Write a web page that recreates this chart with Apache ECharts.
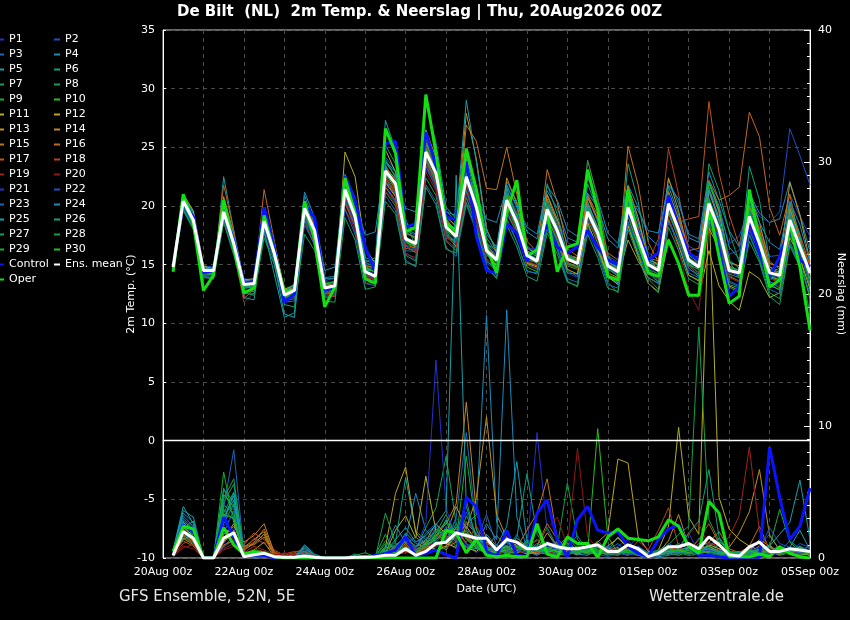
<!DOCTYPE html>
<html><head><meta charset="utf-8">
<script src="https://cdn.jsdelivr.net/npm/echarts@6/dist/echarts.min.js"></script>
<style>html,body{margin:0;padding:0;background:#000;overflow:hidden;}#c{width:850px;height:620px;}</style>
</head><body><div id="c"></div>
<script>
// ---- tick labels ----
const xLabels = ['20Aug 00z','22Aug 00z','24Aug 00z','26Aug 00z','28Aug 00z','30Aug 00z','01Sep 00z','03Sep 00z','05Sep 00z'];
// 64 steps of 6h, from 20Aug 06z to 05Sep 00z
// ---- 2m temperature (°C) ----
const meanT = [14.8,20.4,18.8,14.5, 14.5,19.5,16.8,13.3, 13.4,18.7,16.0,12.4, 12.8,19.8,17.9,13.0, 13.2,21.4,19.1,14.4, 14.0,23.0,21.9,17.2, 16.8,24.6,22.8,18.2, 17.4,22.5,19.9,16.2, 15.4,20.5,18.6,15.8, 15.3,19.7,17.9,15.5, 15.1,19.5,17.7,14.9, 14.4,19.9,17.4,15.0, 14.5,20.2,18.0,15.4, 14.8,20.2,18.0,14.5, 14.3,19.1,16.8,14.3, 14.1,18.8,16.5,14.3];
const controlT = [14.8,20.2,19.1,14.3, 14.5,19.8,17.0,13.4, 13.6,19.9,16.5,11.8, 12.5,20.1,19.0,12.8, 13.2,22.5,20.5,16.5, 14.4,25.3,25.5,18.2, 18.5,26.3,23.4,19.1, 18.8,23.8,17.4,14.5, 14.3,18.5,17.7,15.3, 16.5,18.4,16.5,16.0, 16.5,17.9,16.5,15.4, 15.0,19.5,17.7,15.4, 16.0,20.9,18.2,16.0, 15.4,19.9,16.3,12.3, 13.1,18.8,16.0,13.9, 15.7,18.2,15.4,14.8];
const operT = [14.4,21.0,18.5,12.8, 14.1,20.5,16.5,12.6, 13.0,19.2,16.0,12.8, 12.8,20.4,17.1,11.4, 13.1,22.4,19.4,13.8, 13.4,26.6,24.5,17.8, 18.2,29.5,24.5,18.5, 17.9,24.9,21.4,16.5, 14.3,19.4,22.2,15.7, 16.3,19.4,14.4,16.5, 16.8,23.1,19.7,14.0, 13.7,21.4,17.1,14.3, 14.0,17.1,15.1,12.4, 12.4,20.0,15.7,11.7, 12.3,21.4,17.1,13.1, 13.7,18.5,14.8,9.4];
const t01 = [14.6,20.1,18.9,14.7, 14.3,19.2,16.4,13.0, 13.1,18.4,16.3,12.0, 12.5,19.4,18.3,13.6, 13.9,20.6,17.8,15.1, 14.6,21.8,20.5,16.0, 15.4,23.1,21.9,17.7, 16.9,20.8,18.2,15.1, 14.6,19.2,17.9,15.9, 16.1,18.4,16.5,14.3, 13.9,18.7,17.2,15.6, 15.1,20.6,18.3,14.8, 13.5,19.4,17.1,14.6, 14.2,21.0,19.3,15.3, 13.8,18.2,15.9,13.5, 13.2,17.6,16.2,15.0];
const t02 = [14.9,20.6,19.2,14.9, 14.8,19.8,17.3,13.8, 13.7,19.0,16.4,12.8, 13.0,20.3,18.6,13.4, 13.0,21.8,19.9,15.0, 14.5,24.2,23.0,17.9, 17.5,25.3,23.5,19.0, 18.2,23.0,20.4,16.9, 15.8,21.3,19.5,16.6, 16.0,20.4,18.8,16.9, 16.4,20.8,18.6,15.8, 15.2,21.5,18.8,16.0, 15.5,21.1,19.0,16.6, 16.1,21.4,19.6,16.8, 17.4,19.9,18.2,15.7, 15.8,21.0,19.1,17.4];
const t03 = [14.7,20.0,18.4,14.2, 14.2,19.0,16.2,13.0, 13.3,18.0,15.6,12.2, 12.3,18.9,17.1,12.6, 12.9,20.4,18.6,14.0, 13.5,21.6,20.3,16.2, 16.1,23.4,21.5,17.3, 16.8,21.3,18.7,15.2, 14.9,19.4,17.8,15.0, 14.6,18.6,16.9,14.5, 14.0,18.1,16.2,13.9, 13.4,18.7,16.6,14.2, 13.8,19.3,17.4,14.9, 14.1,19.2,17.3,13.6, 13.2,17.9,16.0,13.4, 12.8,17.5,15.8,13.9];
const t04 = [15.0,20.9,19.4,14.6, 14.6,20.2,17.6,13.5, 13.6,19.5,16.9,12.7, 13.1,20.9,18.4,13.9, 14.0,22.3,20.3,15.4, 15.0,23.7,22.6,18.4, 17.9,25.8,23.7,19.6, 18.6,24.0,21.6,17.6, 16.5,22.1,20.4,17.8, 17.2,21.3,19.8,17.3, 16.9,22.4,20.6,17.7, 16.8,21.8,19.9,17.4, 16.6,22.3,20.2,17.6, 17.2,22.9,20.5,17.9, 16.5,21.1,19.4,18.6, 18.9,22.1,19.3,16.1];
const t05 = [14.5,20.7,19.5,14.0, 13.8,22.5,17.9,13.6, 13.2,19.3,15.1,10.8, 10.5,19.0,17.4,12.9, 13.4,22.7,20.7,15.6, 15.3,27.3,24.8,18.9, 16.4,24.9,23.1,18.6, 17.9,23.9,20.8,16.8, 16.2,21.8,19.9,16.4, 15.9,20.6,18.1,15.1, 14.7,21.9,19.6,15.3, 14.6,21.2,18.6,15.7, 14.9,21.7,19.3,15.2, 15.0,21.9,19.7,15.4, 14.7,20.3,17.5,13.9, 13.6,19.6,17.0,14.6];
const t06 = [14.9,20.3,18.6,14.4, 14.4,19.7,17.1,13.4, 13.5,18.9,16.2,12.6, 12.9,19.9,17.6,13.3, 13.6,21.9,19.3,14.9, 14.3,23.5,21.7,17.0, 16.2,23.9,22.4,18.5, 17.1,22.8,20.6,17.3, 16.0,21.1,18.5,15.2, 14.9,20.1,18.4,15.8, 15.6,20.4,18.1,14.7, 14.0,20.8,17.8,15.4, 15.0,21.3,18.9,15.9, 15.3,21.6,18.7,14.2, 13.9,19.8,17.6,14.8, 14.5,19.9,17.3,13.8];
const t07 = [14.6,20.5,19.0,14.8, 14.7,19.3,16.6,13.1, 13.2,18.5,15.8,12.2, 12.4,19.5,17.5,12.7, 12.8,20.9,18.9,14.6, 14.8,22.6,21.2,16.6, 16.0,24.2,22.1,17.9, 16.5,21.4,18.9,15.4, 14.4,19.6,17.6,15.1, 15.0,19.1,17.0,14.3, 14.2,18.9,16.9,14.1, 13.8,19.2,16.5,14.3, 13.5,19.6,17.2,14.7, 14.0,23.6,21.3,17.8, 15.2,18.6,16.4,13.6, 13.0,18.0,16.2,13.1];
const t08 = [14.4,19.6,18.0,14.1, 14.0,18.9,16.0,12.8, 12.7,18.3,15.5,11.9, 12.1,18.8,16.6,12.5, 12.6,20.5,18.3,13.8, 13.4,21.2,20.0,15.8, 15.3,22.4,20.9,17.0, 16.2,20.7,18.3,14.7, 13.9,18.9,17.0,14.5, 14.2,18.0,16.3,13.6, 13.1,18.4,16.3,13.5, 12.6,18.5,16.0,13.8, 12.9,18.9,16.8,14.1, 13.7,19.0,17.0,13.3, 13.0,17.5,15.4,12.6, 12.1,16.8,14.9,12.4];
const t09 = [14.7,20.8,19.1,14.6, 14.3,20.0,17.2,13.4, 13.6,19.2,16.5,12.9, 13.3,20.3,18.1,13.5, 13.5,21.6,19.6,15.2, 15.6,25.2,23.6,18.6, 17.8,25.7,23.3,18.8, 17.9,23.3,20.7,16.4, 15.1,20.9,18.8,15.6, 15.4,20.2,18.1,15.7, 15.2,19.8,18.2,15.4, 15.0,20.5,17.9,15.1, 14.4,20.6,18.5,15.8, 15.2,20.7,18.3,14.7, 14.6,19.4,17.1,14.5, 14.4,19.2,16.9,14.0];
const t10 = [14.8,20.2,18.5,14.3, 14.1,19.1,16.5,13.2, 13.0,18.6,15.9,12.3, 12.6,19.6,17.2,12.8, 13.1,21.0,18.7,14.3, 13.9,22.4,21.0,16.9, 16.5,24.0,22.0,17.6, 16.9,21.8,19.5,15.9, 15.0,20.1,17.9,14.8, 14.4,18.9,17.2,14.9, 14.6,19.1,16.8,13.9, 13.5,19.1,16.7,14.4, 14.0,19.5,17.6,15.0, 14.3,19.6,17.5,14.0, 13.6,18.5,16.3,13.2, 12.9,17.9,15.7,12.0];
const t11 = [15.1,21.0,19.6,14.9, 14.6,20.3,17.5,13.7, 13.8,19.4,16.8,12.9, 13.2,20.4,18.0,13.1, 12.9,24.6,22.5,16.4, 15.1,24.8,22.9,17.5, 16.4,24.9,23.2,18.4, 17.2,22.9,20.1,15.9, 14.9,20.3,18.1,15.1, 14.8,19.5,17.4,14.6, 14.2,18.6,16.4,14.0, 13.3,18.3,15.8,13.4, 12.7,17.2,15.1,12.5, 12.3,16.2,13.2,11.9, 11.1,14.4,13.8,12.2, 12.6,17.3,15.6,12.9];
const t12 = [14.5,20.4,18.7,14.5, 14.5,19.6,16.9,13.4, 13.4,18.9,16.2,12.6, 12.9,20.0,17.9,13.1, 13.3,22.1,19.4,14.2, 13.6,22.0,20.8,17.0, 16.6,23.8,21.8,17.5, 16.6,22.0,19.6,16.0, 15.5,20.6,18.4,15.7, 15.1,19.9,17.8,15.2, 14.8,19.3,17.2,14.3, 13.9,17.1,15.3,13.9, 13.4,18.9,16.6,14.1, 13.6,18.1,16.4,13.2, 12.8,18.4,16.5,14.0, 13.7,18.6,16.8,13.6];
const t13 = [14.8,20.5,19.2,14.7, 14.5,20.8,17.6,13.2, 13.3,19.9,16.9,12.7, 12.8,20.2,17.9,13.2, 13.4,21.6,19.2,14.7, 14.4,23.1,22.4,17.8, 17.2,26.5,24.1,18.9, 17.8,24.3,21.2,16.8, 15.4,21.0,19.2,16.2, 15.7,20.9,18.6,15.8, 15.2,20.7,18.9,15.6, 14.9,21.7,19.0,15.4, 15.1,22.4,19.6,15.9, 15.6,22.1,19.5,15.2, 14.9,21.2,18.6,15.1, 14.8,22.0,19.2,15.3];
const t14 = [14.6,20.1,18.6,14.4, 14.2,19.4,16.8,13.1, 13.0,18.8,16.3,12.5, 12.6,19.7,17.8,13.0, 13.0,21.2,19.0,14.3, 14.0,22.8,21.4,17.2, 17.0,25.4,23.6,19.1, 18.3,27.9,24.0,18.1, 16.0,22.4,20.2,16.5, 15.9,21.0,18.9,15.9, 15.5,20.1,18.2,15.0, 14.5,20.7,18.0,15.0, 14.8,20.9,18.4,15.6, 15.0,21.3,18.7,14.9, 14.4,20.0,17.9,14.8, 14.3,19.8,17.2,14.3];
const t15 = [14.9,20.6,18.9,14.6, 14.6,19.9,17.3,13.6, 13.7,19.1,16.5,12.9, 13.0,20.1,18.3,13.4, 13.3,21.5,19.5,14.8, 14.9,23.4,22.2,17.6, 17.4,25.0,23.2,18.6, 17.7,26.9,25.5,21.5, 21.4,25.0,21.0,17.0, 16.1,23.1,20.3,16.4, 15.7,20.9,18.8,15.3, 14.7,25.1,21.8,16.9, 15.2,20.8,18.2,15.0, 14.6,20.5,18.1,14.5, 14.0,19.3,17.3,14.6, 14.2,19.0,16.7,14.0];
const t16 = [14.7,20.2,18.7,14.5, 14.4,20.6,17.0,13.3, 13.2,21.4,17.1,12.6, 12.7,19.3,17.0,12.8, 13.1,20.8,18.6,14.0, 13.8,22.1,20.9,16.7, 16.4,24.3,22.6,18.0, 17.5,23.1,20.6,16.6, 15.6,21.1,19.3,16.1, 15.4,20.5,18.4,15.7, 15.6,21.0,19.2,16.0, 15.4,20.8,18.1,15.6, 15.3,21.2,18.9,16.2, 16.4,22.2,20.5,20.9, 21.6,28.0,25.9,19.9, 17.5,21.0,17.0,15.0];
const t17 = [14.6,20.3,18.5,14.3, 14.2,21.8,17.9,12.1, 12.9,18.3,15.9,12.3, 12.5,19.1,17.3,12.5, 12.8,20.2,18.3,13.4, 13.5,21.6,20.5,16.4, 16.2,23.5,21.8,17.6, 17.0,22.2,19.8,16.1, 15.2,20.3,18.3,15.3, 14.9,19.7,17.6,15.0, 14.8,19.9,18.0,15.1, 14.6,19.6,17.3,15.2, 15.0,20.7,18.6,18.9, 19.1,28.9,22.8,19.3, 16.6,20.7,18.0,15.1, 14.8,20.1,17.6,14.9];
const t18 = [14.9,20.4,18.8,14.6, 14.6,19.5,16.9,13.5, 13.5,18.8,16.0,12.5, 12.9,19.2,17.2,12.2, 12.3,20.3,18.5,13.7, 13.9,22.3,21.2,17.1, 16.7,23.9,22.3,18.2, 17.3,21.9,19.7,16.3, 15.5,20.2,18.3,15.6, 15.3,19.5,17.8,15.4, 15.0,19.3,17.5,14.8, 14.3,19.7,17.4,15.2, 17.2,24.9,21.0,16.3, 14.9,20.0,18.1,14.7, 14.2,19.0,16.9,14.4, 14.0,18.6,16.4,14.1];
const t19 = [14.7,20.0,18.4,14.2, 14.0,18.9,16.1,11.8, 12.6,18.1,15.6,12.1, 12.2,18.5,16.9,12.4, 12.5,19.8,18.0,13.6, 14.2,21.3,20.2,15.9, 15.6,22.9,21.3,17.1, 16.4,21.1,18.8,15.5, 14.8,19.8,17.7,15.0, 14.7,19.2,17.3,14.9, 14.9,23.9,20.8,15.2, 14.1,19.3,16.9,14.5, 14.0,19.8,17.4,15.0, 14.3,19.6,17.6,14.1, 13.6,18.3,16.2,13.8, 13.5,18.2,15.9,13.7];
const t20 = [14.8,20.3,18.7,14.4, 14.3,19.3,16.6,13.2, 13.3,18.5,15.8,12.4, 12.7,19.4,17.4,12.9, 13.0,20.7,18.6,14.1, 13.7,22.5,21.3,16.8, 16.1,23.6,21.7,17.4, 16.7,21.6,19.2,15.8, 15.1,20.0,18.2,15.3, 15.0,19.4,17.6,15.2, 14.6,19.0,17.0,14.3, 13.8,19.4,17.1,14.6, 13.7,19.1,16.2,12.8, 11.1,18.4,16.8,13.9, 13.5,18.7,16.6,14.2, 13.9,18.5,16.3,14.0];
const t21 = [14.9,20.5,18.9,14.6, 14.6,19.4,16.7,13.3, 13.4,18.6,15.9,12.4, 12.8,19.6,17.6,12.9, 13.4,21.3,19.2,14.6, 14.2,22.9,21.8,17.3, 16.9,24.4,22.5,18.0, 17.6,22.6,20.2,16.5, 15.9,20.7,18.9,16.3, 16.4,20.3,18.5,16.0, 15.3,19.6,17.6,14.6, 14.2,19.5,17.0,14.8, 14.2,20.0,17.8,15.1, 14.6,19.9,17.8,14.3, 14.1,18.9,16.7,14.2, 13.8,18.4,16.0,13.5];
const t22 = [14.6,20.0,18.3,14.1, 14.1,19.0,16.4,13.0, 13.1,18.2,15.7,12.1, 12.4,19.0,17.1,12.6, 12.9,20.6,18.4,14.2, 13.8,22.2,21.0,16.6, 16.3,23.7,22.0,17.6, 17.0,22.0,19.4,15.8, 15.2,20.1,18.1,15.4, 15.2,19.3,17.5,15.1, 14.8,19.2,17.3,14.7, 14.2,19.8,17.3,14.9, 14.6,20.4,18.3,15.6, 15.1,20.6,18.6,15.9, 16.2,20.9,19.1,18.6, 19.5,26.6,24.3,21.8];
const t23 = [14.5,19.8,18.2,14.0, 13.9,18.7,16.0,12.7, 12.5,17.6,15.3,11.8, 11.9,18.4,16.7,12.3, 12.4,19.7,17.6,13.4, 13.2,20.9,19.6,15.4, 14.8,21.8,20.4,16.5, 15.7,20.1,17.8,14.6, 14.1,18.8,16.9,14.4, 14.3,18.2,16.4,13.8, 13.5,18.0,16.0,13.3, 13.0,18.6,16.2,13.9, 13.4,18.6,16.9,14.3, 13.9,18.8,16.9,13.5, 13.1,17.6,15.6,12.9, 12.5,17.0,15.0,12.6];
const t24 = [15.0,20.7,19.0,14.7, 14.7,20.4,17.5,13.6, 13.8,19.3,16.7,12.8, 13.2,21.2,19.0,14.5, 14.8,21.9,20.5,17.5, 17.8,24.0,22.4,19.8, 19.5,24.8,22.9,19.5, 19.2,22.7,20.8,18.9, 18.6,21.6,20.1,18.2, 17.6,21.7,20.5,18.0, 17.4,21.1,19.9,17.2, 16.4,20.9,19.6,17.9, 17.7,21.8,20.6,17.3, 16.9,22.1,20.0,16.5, 15.5,20.6,18.6,16.9, 16.3,20.4,18.4,15.2];
const t25 = [14.8,20.6,19.3,14.8, 14.5,20.1,16.6,12.2, 12.0,17.9,14.2,10.5, 10.9,19.3,18.2,13.8, 13.8,21.4,19.8,15.2, 14.8,23.8,22.9,18.1, 17.6,28.8,25.4,19.9, 18.9,29.0,23.7,17.9, 16.3,21.5,19.0,15.5, 15.4,20.0,17.9,15.3, 15.2,20.2,18.2,15.2, 14.8,20.3,17.8,15.3, 14.7,20.2,18.1,15.3, 14.9,21.4,19.0,14.6, 14.3,19.6,17.2,14.4, 13.9,19.4,16.8,14.2];
const t26 = [14.6,20.2,18.6,14.4, 14.3,19.3,16.6,13.1, 13.2,18.4,15.7,12.2, 12.5,19.3,17.3,12.8, 13.2,21.0,18.8,14.5, 14.5,23.3,22.0,17.4, 16.8,24.9,23.0,18.3, 17.4,22.6,20.0,16.1, 15.3,20.8,18.7,15.8, 15.6,21.9,19.3,15.8, 15.3,19.9,17.9,15.1, 14.5,23.6,20.4,15.5, 14.9,20.3,18.0,15.1, 14.8,20.3,18.1,14.7, 14.5,23.4,20.5,15.3, 14.6,20.3,17.5,13.3];
const t27 = [14.4,19.7,18.1,13.9, 13.8,18.6,15.8,12.6, 12.4,17.3,15.0,11.6, 11.4,17.6,16.2,11.9, 11.8,19.0,17.1,12.9, 13.1,20.4,19.3,15.2, 14.9,21.6,20.1,16.3, 16.0,20.3,18.0,14.9, 13.8,18.4,16.5,14.0, 13.6,17.7,15.9,13.5, 13.2,17.6,15.6,13.0, 12.7,18.0,15.6,13.4, 12.6,18.2,16.2,13.8, 13.3,18.5,16.5,13.1, 12.6,17.0,15.2,12.3, 11.6,16.6,14.8,10.9];
const t28 = [14.9,20.7,18.9,14.6, 14.4,19.8,17.0,13.5, 13.5,18.9,16.2,12.7, 13.0,20.0,18.0,13.2, 13.6,22.0,19.8,14.9, 15.2,23.8,22.5,17.7, 17.3,25.2,23.4,18.7, 17.9,23.2,20.5,16.7, 15.7,21.1,19.2,16.1, 15.8,20.4,18.3,15.8, 15.4,23.9,20.6,15.8, 14.6,20.1,17.6,15.1, 14.5,20.4,18.2,15.5, 15.0,20.6,18.3,14.8, 14.5,19.5,17.2,14.6, 14.3,19.0,16.7,14.4];
const t29 = [14.5,20.1,18.5,14.2, 14.2,19.2,16.5,13.0, 13.1,18.5,15.8,12.2, 12.6,19.5,17.4,12.9, 13.0,21.2,18.9,14.4, 14.0,22.7,21.6,17.0, 16.6,24.5,22.4,17.9, 17.2,22.4,19.7,15.9, 15.2,20.2,18.2,15.4, 15.2,19.6,17.6,15.1, 14.8,19.3,17.4,14.6, 14.1,19.6,17.0,14.6, 14.2,19.9,17.6,15.0, 14.6,22.0,19.8,15.3, 14.0,18.8,16.6,14.1, 13.7,18.5,16.1,13.8];
const t30 = [14.7,20.4,18.8,14.5, 14.5,19.6,16.9,13.3, 13.3,18.8,16.1,12.5, 12.9,19.9,17.8,13.0, 13.2,21.6,19.4,14.7, 14.4,23.2,22.0,17.3, 16.9,24.8,22.9,18.4, 17.6,22.7,20.1,16.4, 15.6,20.7,18.7,15.9, 15.4,19.8,18.0,15.6, 15.0,19.6,17.8,15.0, 14.5,20.0,17.5,15.1, 14.6,20.3,18.1,15.5, 14.9,20.3,18.2,14.6, 14.3,19.2,16.9,14.3, 14.1,18.9,16.6,14.3];
// ---- precipitation (mm / 6h) ----
const meanR = [0.2,2.0,1.5,0,0,1.5,1.9,0.1, 0.25,0.35,0.1,0.05,0.05,0.15,0.05,0, 0,0,0.05,0.05,0.1,0.2,0.2,0.7, 0.2,0.5,1.1,1.2,1.9,1.7,1.5,1.5, 0.6,1.4,1.2,0.7,0.7,1.1,0.85,0.7, 0.7,0.85,1.0,0.5,0.5,1.0,0.7,0.1, 0.35,0.85,0.85,1.1,0.7,1.6,1.0,0.25, 0.15,0.85,1.2,0.5,0.5,0.7,0.6,0.5];
const controlR = [0.4,2.5,2.0,0,0,3.1,1.6,0.1, 0.2,0.2,0,0,0,0,0,0, 0,0,0,0,0.2,0.35,0.6,1.6, 0.15,0.35,0.6,0.25,0,4.6,3.9,0.5, 0.1,2.1,0.2,0.1,3.4,4.4,1.4,0.1, 2.9,3.9,2.1,1.9,2.0,0.85,0.35,0.1, 1.4,2.2,2.5,0.85,0.2,0.2,0.1,0, 0,0.1,0.05,8.4,4.6,1.4,2.4,5.3];
const operR = [0.5,2.4,2.2,0,0,2.3,1.0,0.3, 0.5,0.4,0.1,0,0,0,0,0, 0,0,0,0,0,0,0,0, 0,0,0,2.1,1.9,0.4,1.4,0.2, 0.1,0.2,0.1,0.1,2.6,0.3,0.05,1.6, 1.1,1.1,0.05,1.6,2.2,1.5,1.4,1.3, 1.6,2.9,2.4,0.85,0.35,4.3,3.4,0.1, 0.1,0.1,0.3,0.1,0.85,0.35,0.1,0];
const r01 = [0.3,1.8,1.2,0,0,1.1,2.3,0.1, 0.2,0.4,0,0,0,0,0,0, 0,0,0,0,0,0.2,0.5,1.0, 0.1,0.3,0.8,1.5,2.2,1.0,0.4,0.9, 0.3,1.5,0.8,0.6,9.5,2.1,0.5,0.2, 0.8,1.2,0.4,0.3,0.9,1.4,0.2,0, 0.3,1.1,0.7,1.9,0.4,0.8,0.6,0.1, 0,0.5,1.3,0.4,0.2,0.9,0.5,0.3];
const r02 = [0.5,2.4,1.6,0,0,0.8,1.4,0, 0.1,0.2,0,0,0,0.3,0,0, 0,0,0,0,0.1,0.4,0.2,0.6, 0.3,0.9,2.4,1.2,0.7,2.8,1.9,0.5, 0.2,0.6,1.8,0.4,0.3,1.1,0.9,0.5, 0.2,0.7,0.3,0.1,0.4,0.8,1.6,0.6, 0.2,0.5,0.9,0.4,0.2,1.2,0.7,0.1, 0,0.3,0.9,1.8,0.6,0.4,1.1,0.8];
const r03 = [0.2,2.9,2.1,0,0,1.9,3.6,0.2, 0,0.1,0,0,0,0,0,0, 0,0,0,0,0,0.1,0.3,0.4, 0.6,1.2,0.5,0.9,3.1,9.5,2.2,0.6, 1.0,0.5,0.3,1.4,0.8,0.4,0.2,0.9, 1.7,0.5,0.2,0.6,1.1,0.3,0.2,0, 0.1,0.4,0.6,0.3,1.5,0.9,0.2,0.1, 0.2,0.8,0.4,0.2,0.5,1.3,0.7,0.4];
const r04 = [0.4,3.2,2.4,0,0,2.6,4.1,0.3, 0.2,0.3,0,0,0,0.6,0.1,0, 0,0,0,0,0,0.3,0.8,1.4, 4.9,2.1,1.3,0.6,1.8,2.5,3.3,18.4, 2.7,1.3,0.9,0.5,0.2,0.6,1.1,0.4, 0.3,0.2,0.6,0.9,0.4,0.2,0.7,0.3, 0.1,0.2,0.4,0.8,0.3,0.6,0.4,0.2, 0.1,0.3,0.5,0.2,0.7,0.4,0.9,0.5];
const r05 = [0.6,3.9,2.6,0,0,3.0,4.4,0.2, 0,0.4,0,0,0,0.9,0.2,0, 0,0,0,0,0,0.2,0.6,1.9, 1.1,0.8,1.6,2.9,1.5,0.9,0.7,1.8, 0.9,2.4,7.3,1.3,0.6,0.4,0.8,1.2, 0.5,0.9,0.3,0.6,1.6,0.8,0.4,0.2, 0.3,0.6,1.1,0.7,0.4,0.9,1.5,0.3, 0.2,0.4,0.6,1.0,0.3,0.8,2.1,0.6];
const r06 = [0.3,2.2,2.8,0,0,3.4,5.0,0.4, 0.1,0.2,0,0,0,0.5,0,0, 0,0,0,0,0,0.5,1.2,6.1, 2.0,1.4,0.6,0.8,2.4,1.1,0.5,1.2, 0.6,0.9,1.6,6.4,1.8,0.7,0.3,0.5, 0.4,1.0,0.8,0.3,0.2,0.6,0.9,0.3, 0.2,0.4,0.3,0.6,0.8,0.5,1.0,0.4, 0.3,0.2,0.5,0.8,0.4,0.3,0.6,0.9];
const r07 = [0.2,1.6,1.1,0,0,4.2,5.6,0.5, 0.3,0.1,0,0,0,0,0,0, 0,0,0.1,0.2,0,0.9,0.4,1.3, 0.7,2.3,3.8,7.7,2.6,1.4,0.8,0.3, 0.5,1.2,0.4,0.9,2.2,0.6,0.3,0.2, 0.6,0.4,1.3,0.5,0.3,0.8,0.4,0.1, 0.2,0.7,0.5,0.3,1.1,0.6,0.3,0.2, 0.1,0.6,0.4,0.3,0.8,0.5,0.2,0.4];
const r08 = [0.4,2.0,1.9,0,0,5.3,3.1,0.3, 0.2,0.3,0,0,0,0.2,0,0, 0,0,0.2,0.4,0.1,1.3,0.6,0.8, 0.4,1.0,2.2,1.6,0.9,3.2,1.7,0.6, 0.4,0.8,1.1,0.6,0.9,2.3,0.8,5.7, 1.4,0.6,0.5,0.2,0.7,0.4,0.3,0.2, 0.4,0.3,0.8,0.5,0.6,0.4,0.7,0.3, 0.2,0.5,0.3,0.6,0.2,0.4,0.9,0.3];
const r09 = [0.5,2.6,1.4,0,0,6.5,2.7,0.2, 0.4,0.5,0,0,0,0,0,0, 0,0,0,0.1,0.2,1.8,0.3,0.5, 0.2,0.6,1.9,2.7,1.3,7.7,2.1,0.8, 0.3,0.5,0.7,1.2,0.4,0.3,0.9,1.6, 0.7,0.3,0.4,0.6,0.3,0.5,0.2,0.1, 0.5,0.8,0.4,0.2,0.3,0.7,0.5,0.2, 0.1,0.3,0.4,0.2,0.6,0.3,0.5,0.2];
const r10 = [0.3,1.4,1.8,0,0,4.8,3.9,0.1, 0.1,0.2,0,0,0,0,0,0, 0,0,0,0,0,0.6,0.4,0.9, 0.5,0.8,1.3,0.6,2.0,1.6,0.9,0.4, 0.6,0.3,0.5,0.8,1.4,0.6,0.2,0.4, 0.9,0.5,9.8,1.6,0.4,0.3,0.6,0.2, 0.3,0.4,0.2,0.5,0.7,0.3,0.2,0.1, 0.2,0.4,0.3,0.5,0.9,0.3,0.2,0.4];
const r11 = [0.2,1.9,1.3,0,0,1.2,2.1,0.3, 0.6,1.2,0.1,0,0,0.2,0,0, 0,0,0,0,0,0.4,2.1,3.2, 1.5,6.2,2.0,1.1,0.8,2.4,1.3,0.7, 0.5,0.9,0.4,0.6,0.3,0.8,0.5,0.4, 0.3,0.6,0.4,0.9,1.5,0.8,0.5,0.3, 0.6,2.4,9.9,3.1,1.8,27.0,4.6,2.2, 1.4,0.9,0.6,0.4,0.3,0.5,0.4,0.2];
const r12 = [0.3,2.3,1.7,0,0,1.5,2.6,0.6, 1.1,1.8,0.2,0,0,0,0,0, 0,0,0,0,0,0.8,4.9,6.9, 1.9,1.0,0.6,0.9,1.7,0.8,0.5,1.2, 0.8,0.4,0.6,0.3,0.5,1.0,0.7,0.3, 0.4,0.8,1.2,1.9,7.5,7.2,1.6,0.5, 0.4,0.3,0.6,0.8,0.5,1.0,0.7,0.3, 0.2,0.4,0.9,0.6,0.3,0.5,0.8,0.4];
const r13 = [0.4,2.7,2.0,0,0,2.2,1.9,0.8, 1.4,2.0,0.3,0,0,0,0,0, 0,0,0,0,0,0.3,0.9,1.6, 0.8,1.3,2.6,1.8,3.9,2.2,4.6,10.7, 3.3,1.5,0.9,0.6,0.4,0.7,0.5,0.3, 0.5,0.9,0.6,0.4,0.3,0.8,0.5,0.2, 0.3,0.5,0.4,0.7,0.6,0.9,1.2,0.8, 1.9,3.5,6.7,1.7,0.6,0.4,0.3,0.5];
const r14 = [0.2,1.5,1.0,0,0,1.8,2.4,1.2, 1.7,2.6,0.4,0,0,0,0,0, 0,0,0,0,0,0.2,0.5,1.1, 0.4,0.9,1.7,2.6,4.1,11.8,3.4,1.5, 0.7,0.5,1.1,0.8,0.6,1.9,0.9,0.4, 0.3,0.6,0.5,0.8,0.4,0.3,0.6,0.2, 0.4,1.3,3.3,0.9,0.5,0.7,0.4,0.3, 0.2,0.6,1.4,0.9,0.5,0.3,0.6,0.4];
const r15 = [0.5,2.1,1.5,0,0,1.3,1.7,0.9, 1.0,1.6,0.2,0,0,0.1,0,0, 0,0,0,0,0,0.1,0.3,0.7, 0.5,0.6,1.1,0.8,1.2,1.9,0.7,0.4, 0.5,1.6,0.8,2.1,3.4,6.0,1.5,0.6, 0.4,0.5,0.3,0.6,0.8,0.4,0.3,0.2, 0.3,0.6,0.9,0.4,0.3,0.5,0.7,0.4, 0.3,0.5,0.4,0.8,0.6,0.4,0.3,0.5];
const r16 = [0.3,1.7,1.2,0,0,1.0,1.3,0.7, 1.2,2.2,0.5,0,0.3,0.5,0.1,0, 0,0,0,0,0,0.2,0.6,0.5, 0.3,0.8,1.5,2.1,1.4,2.7,1.8,0.9, 1.7,0.8,0.6,0.4,0.9,2.6,1.4,0.5, 0.7,0.4,0.6,0.3,0.5,0.9,0.4,0.3, 0.2,0.5,0.3,0.6,0.8,1.2,2.0,0.7, 0.4,0.9,2.4,0.6,0.3,0.7,0.5,0.4];
const r17 = [0.4,1.3,0.9,0,0,0.9,1.6,1.0, 1.9,1.4,0.6,0.2,0.4,0.7,0.2,0, 0,0,0,0,0,0.4,0.8,1.2, 0.6,1.1,0.9,1.4,2.3,1.6,1.0,0.6, 0.4,0.7,1.3,0.9,0.5,0.8,0.4,0.3, 0.6,0.5,0.4,0.7,0.3,0.6,0.5,0.2, 0.4,0.8,0.6,0.5,1.4,2.6,1.1,0.5, 0.3,0.7,0.4,0.5,0.8,0.4,0.6,0.3];
const r18 = [0.2,1.1,1.4,0,0,1.4,2.0,0.5, 1.5,1.1,0.4,0.3,0.5,0.4,0.1,0, 0,0,0,0,0,0.1,0.4,0.9, 0.3,0.7,1.8,1.0,1.9,1.2,2.4,1.1, 0.6,0.5,0.9,0.7,0.4,0.6,1.2,0.5, 0.8,0.4,0.3,0.5,0.6,0.4,1.3,0.6, 2.1,3.8,0.9,0.4,0.3,0.6,0.5,0.3, 0.4,0.6,0.5,0.3,0.4,0.7,0.5,0.6];
const r19 = [0.1,0.8,1.0,0,0,0.7,1.1,0.4, 0.9,0.6,0.3,0.2,0.3,0.2,0,0, 0,0,0,0,0,0.2,0.3,0.6, 0.8,0.5,0.9,1.6,1.1,0.8,1.4,0.7, 0.3,0.6,0.5,0.4,0.8,0.5,0.3,0.4, 0.6,0.9,0.5,0.3,0.4,0.7,0.5,0.2, 0.3,0.6,0.8,0.5,0.4,1.1,0.9,1.6, 3.2,8.4,2.0,0.6,0.4,0.3,0.5,0.4];
const r20 = [0.2,0.9,0.7,0,0,0.6,0.9,0.3, 0.7,0.5,0.2,0.4,0.2,0.1,0,0, 0,0,0,0,0,0.3,0.5,0.4, 0.6,0.9,1.2,0.7,1.5,2.0,1.1,0.8, 0.5,0.4,0.7,0.9,1.3,2.2,3.1,0.9, 8.3,1.6,0.7,0.4,0.5,0.3,0.6,0.4, 0.5,0.4,0.7,1.8,2.6,0.9,0.6,0.4, 0.5,0.3,0.6,0.4,0.5,0.3,0.4,0.6];
const r21 = [0.4,2.2,1.6,0,0,2.4,3.3,0.2, 0.1,0.3,0,0,0,0.1,0,0, 0,0,0,0,0,0.3,0.4,0.8, 0.6,2.7,15.0,3.8,1.4,0.9,1.2,0.5, 0.7,1.1,0.6,0.4,0.8,1.3,0.6,0.3, 0.5,0.8,0.4,0.6,0.3,0.5,0.9,0.4, 0.3,0.6,0.4,0.3,0.7,0.5,0.4,0.2, 0.3,0.5,0.8,0.6,0.4,0.6,0.3,0.5];
const r22 = [0.3,2.5,1.8,0,0,2.9,3.8,0.1, 0,0.2,0,0,0,0.4,0,0, 0,0,0,0,0,0.1,0.3,0.6, 0.9,1.6,1.1,2.4,1.7,3.5,1.4,0.8, 0.6,0.4,1.0,0.7,0.5,0.9,0.6,1.4, 0.5,0.3,0.6,0.9,0.4,0.2,0.5,0.3, 0.6,0.4,0.3,0.5,0.9,0.6,0.4,0.3, 0.5,0.4,0.6,2.3,1.1,0.8,0.5,0.9];
const r23 = [0.5,3.0,2.3,0,0,3.8,8.2,0.4, 0.2,0.3,0,0,0,0.7,0.1,0, 0,0,0,0,0,0.4,0.9,1.7, 0.8,1.9,2.6,1.4,3.0,2.2,1.3,3.3, 0.9,0.6,0.4,1.1,0.6,0.5,0.8,0.3, 0.4,0.7,0.5,0.3,0.6,0.4,0.3,0.2, 0.4,0.6,0.5,0.3,0.4,0.8,0.6,0.4, 0.3,0.6,0.4,0.3,0.5,0.4,0.6,0.3];
const r24 = [0.4,3.4,2.7,0,0,3.1,4.7,0.3, 0.1,0.2,0,0,0,0.8,0.2,0, 0,0,0,0,0,0.7,2.5,1.1, 1.6,0.9,1.4,2.0,1.2,1.8,0.9,2.6, 1.4,18.8,3.1,0.8,0.5,0.7,1.3,0.6, 0.4,0.6,0.9,0.5,0.3,0.6,0.8,0.4, 0.3,0.5,0.4,0.6,0.5,0.9,0.4,0.3, 0.2,0.4,0.7,0.5,0.9,0.6,0.4,0.3];
const r25 = [0.6,3.6,3.1,0,0,2.8,4.9,0.2, 0,0.3,0,0,0,1.0,0.3,0, 0,0,0,0.1,0,0.5,1.4,2.3, 1.2,1.7,2.5,3.6,29.0,3.9,1.6,0.9, 0.5,1.2,0.8,0.6,0.9,0.4,0.7,1.1, 0.6,0.5,0.3,0.7,0.5,0.4,0.6,0.3, 0.2,0.4,0.6,0.8,0.5,0.7,0.4,0.3, 0.5,0.3,0.6,0.9,1.8,2.7,5.9,1.4];
const r26 = [0.3,2.8,2.2,0,0,5.2,4.3,0.3, 0.2,0.4,0,0,0,0.4,0,0, 0,0,0,0,0,0.6,1.0,1.5, 0.9,1.4,2.0,1.2,2.6,1.5,0.8,0.6, 0.7,0.9,0.5,1.3,0.6,0.8,0.4,0.5, 0.3,0.6,0.8,0.5,0.4,0.7,0.3,0.2, 0.5,0.3,0.7,1.9,2.8,6.7,1.6,0.5, 0.4,0.6,0.3,0.5,0.4,0.7,0.8,0.4];
const r27 = [0.2,1.7,1.6,0,0,4.5,6.0,0.4, 0.3,0.2,0,0,0,0.1,0,0, 0,0,0.3,0.1,0,3.4,1.1,0.7, 0.4,1.2,1.9,3.3,1.6,2.1,1.0,0.5, 0.4,0.7,1.5,0.9,0.6,0.4,1.2,0.8, 0.5,0.7,0.4,0.3,0.6,0.5,0.4,0.3, 0.4,0.6,0.5,0.3,0.6,0.4,0.3,0.2, 0.3,0.5,0.4,0.6,0.3,0.5,0.6,0.4];
const r28 = [0.4,2.1,1.4,0,0,3.7,2.9,0.2, 0.3,0.4,0,0,0,0,0,0, 0,0,0,0.2,0.1,1.1,0.8,0.6, 0.5,0.9,1.6,2.8,1.7,4.4,1.3,0.7, 0.6,0.4,0.8,0.5,1.1,0.7,0.9,0.4, 0.5,0.3,0.6,0.4,0.7,0.5,0.3,0.4, 0.6,1.0,1.8,2.4,17.5,2.9,1.3,0.5, 0.3,0.6,0.4,0.5,0.4,0.6,0.7,0.3];
const r29 = [0.3,1.9,1.7,0,0,4.0,3.4,0.1, 0.2,0.3,0,0,0,0,0,0, 0,0,0,0.1,0,0.8,0.5,0.6, 0.3,1.0,1.4,1.9,2.2,1.5,0.7,0.4, 0.5,0.8,0.6,0.9,0.5,0.6,1.0,0.7, 0.4,0.6,0.5,0.3,0.5,0.4,0.6,0.3, 0.4,0.7,0.5,0.6,0.4,0.5,0.3,0.4, 0.5,0.3,0.6,0.8,3.7,1.2,0.5,0.4];
const r30 = [0.5,2.4,1.9,0,0,3.3,3.0,0.2, 0.1,0.2,0,0,0,0,0,0, 0,0,0,0,0,0.5,0.4,0.8, 0.6,1.1,1.7,2.2,1.8,2.0,1.2,0.6, 0.4,0.6,0.9,0.7,0.8,0.5,0.6,0.9, 0.6,0.4,0.8,0.5,0.4,0.6,0.5,0.3, 0.4,0.5,0.6,0.4,0.7,0.9,0.5,0.3, 0.2,0.5,0.4,0.6,0.5,0.4,0.6,0.5];

const memberColors = ['#2232cc','#1a50c4','#1a68b8','#1a8cbc','#12a0a8','#10a080','#10a060','#10a048','#14b02a','#22c018',
                      '#b4b01c','#bca21c','#c0921c','#c2861c','#c2741c','#c2681c','#bc5618','#b44220','#a02222','#901818'];
const tempMembers = [t01,t02,t03,t04,t05,t06,t07,t08,t09,t10,t11,t12,t13,t14,t15,t16,t17,t18,t19,t20,t21,t22,t23,t24,t25,t26,t27,t28,t29,t30];
const rainMembers = [r01,r02,r03,r04,r05,r06,r07,r08,r09,r10,r11,r12,r13,r14,r15,r16,r17,r18,r19,r20,r21,r22,r23,r24,r25,r26,r27,r28,r29,r30];

function pts(arr){ return arr.map((v,i)=>[i+1, v]); }
const series = [];
tempMembers.forEach((arr,k)=>{
  const name = 'P'+(k+1);
  const color = memberColors[k%20];
  const s = {name, type:'line', yAxisIndex:0, data:pts(arr), showSymbol:false, symbol:'none',
    lineStyle:{width:1, color}, itemStyle:{color}, z:2};
  if(k===0){
    s.markLine = {silent:true, symbol:'none', label:{show:false}, animation:false,
      lineStyle:{color:'#ffffff', width:1.3, type:'solid'}, data:[{yAxis:0}]};
  }
  series.push(s);
  series.push({name, type:'line', yAxisIndex:1, data:pts(rainMembers[k]), showSymbol:false, symbol:'none',
    lineStyle:{width:1, color}, itemStyle:{color}, z:2});
});
const thick = [
  ['Control', controlT, controlR, '#0a14ff'],
  ['Oper', operT, operR, '#12e012'],
  ['Ens. mean', meanT, meanR, '#ffffff']
];
thick.forEach(([name,t,r,color])=>{
  series.push({name, type:'line', yAxisIndex:0, data:pts(t), showSymbol:false, symbol:'none', lineStyle:{width:3, color}, itemStyle:{color}, z:3});
  series.push({name, type:'line', yAxisIndex:1, data:pts(r), showSymbol:false, symbol:'none', lineStyle:{width:3, color}, itemStyle:{color}, z:3});
});

const leftNames = [], rightNames = [];
for(let k=1;k<=30;k++){ (k%2 ? leftNames : rightNames).push('P'+k); }
leftNames.push('Control','Oper'); rightNames.push('Ens. mean');
const legendBase = {orient:'vertical', top:32, itemWidth:6, itemHeight:2, itemGap:0, icon:'rect', padding:0,
  selectedMode:false, textStyle:{color:'#ffffff', fontSize:11, lineHeight:15, fontFamily:'DejaVu Sans'}};

const font = 'DejaVu Sans';
const chart = echarts.init(document.getElementById('c'), null, {renderer:'canvas'});
chart.setOption({
  backgroundColor:'#000000',
  animation:false,
  textStyle:{fontFamily:font},
  title:[
    {text:'De Bilt  (NL)  2m Temp. & Neerslag | Thu, 20Aug2026 00Z', left:177, top:5, padding:0,
     textStyle:{color:'#ffffff', fontSize:15, fontWeight:'bold', fontFamily:font}},
    {text:'GFS Ensemble, 52N, 5E', left:119, top:590, padding:0, textStyle:{color:'#e6e6e6', fontSize:15, fontWeight:'normal', fontFamily:font}},
    {text:'Wetterzentrale.de', left:649, top:590, padding:0, textStyle:{color:'#e6e6e6', fontSize:15, fontWeight:'normal', fontFamily:font}}
  ],
  legend:[
    Object.assign({}, legendBase, {left:-2, data:leftNames}),
    Object.assign({}, legendBase, {left:54, data:rightNames})
  ],
  grid:{left:163, right:40, top:30, bottom:62, containLabel:false, outerBoundsMode:'none',
        show:true, borderColor:'#d0d0d0', borderWidth:1, backgroundColor:'transparent'},
  xAxis:{type:'value', min:0, max:64, interval:4,
    name:'Date (UTC)', nameLocation:'middle', nameGap:26, nameMoveOverlap:false,
    nameTextStyle:{color:'#ffffff', fontSize:11, fontFamily:font},
    axisLine:{show:true, lineStyle:{color:'#ffffff', width:1}},
    axisTick:{show:false},
    axisLabel:{color:'#ffffff', fontSize:11, margin:9, fontFamily:font, showMinLabel:true, showMaxLabel:true,
      formatter:function(v){ return (v%8===0) ? xLabels[v/8] : ''; }},
    splitLine:{show:true, lineStyle:{color:'#4a4a4a', type:[4,4], width:1}}
  },
  yAxis:[
    {type:'value', min:-10, max:35, interval:5, position:'left',
     name:'2m Temp. (°C)', nameLocation:'middle', nameGap:26, nameRotate:90, nameMoveOverlap:false,
     nameTextStyle:{color:'#ffffff', fontSize:11, fontFamily:font},
     axisLine:{show:true, lineStyle:{color:'#ffffff', width:1}},
     axisTick:{show:true, inside:true, length:3, lineStyle:{color:'#ffffff'}},
     axisLabel:{color:'#ffffff', fontSize:11, margin:8, fontFamily:font},
     splitLine:{show:true, lineStyle:{color:'#4a4a4a', type:[4,4], width:1}}},
    {type:'value', min:0, max:40, interval:10, position:'right',
     name:'Neerslag (mm)', nameLocation:'middle', nameGap:25, nameRotate:-90, nameMoveOverlap:false,
     nameTextStyle:{color:'#ffffff', fontSize:11, fontFamily:font},
     axisLine:{show:true, lineStyle:{color:'#ffffff', width:1}},
     axisTick:{show:true, inside:true, length:6, lineStyle:{color:'#ffffff'}},
     minorTick:{show:true, splitNumber:10, length:3, lineStyle:{color:'#ffffff'}},
     axisLabel:{color:'#ffffff', fontSize:11, margin:8, fontFamily:font},
     splitLine:{show:false}}
  ],
  series: series
});
</script>
</body></html>
